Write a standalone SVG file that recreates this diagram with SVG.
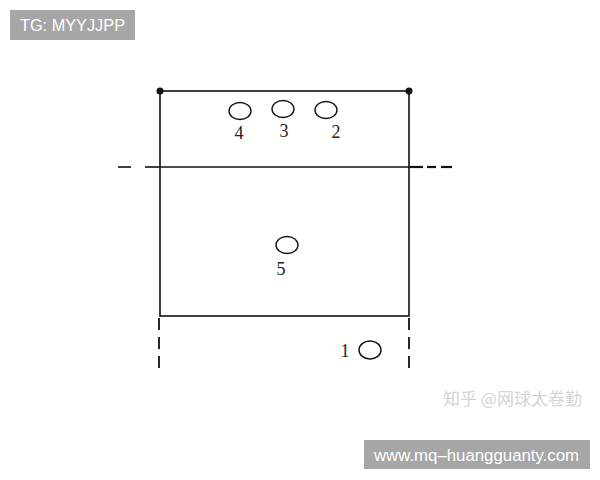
<svg xmlns="http://www.w3.org/2000/svg" width="600" height="480" viewBox="0 0 600 480">
<style>
.ln{stroke:#111;stroke-width:1.6;fill:none}
.dash{stroke:#111;stroke-width:1.8;fill:none;stroke-dasharray:12 7}
.hole{fill:none;stroke:#111;stroke-width:1.4}
.num{font-family:"Liberation Serif",serif;font-size:18px;fill:#222;text-anchor:middle}
.badge{fill:#a6a6a6}
.btxt{font-family:"Liberation Sans",Arial,sans-serif;font-size:16px;fill:#fff}
</style>
<rect width="600" height="480" fill="#fff"/>
<g id="badge-top">
<rect class="badge" x="10" y="10" width="125" height="30"/>
<text class="btxt" x="20" y="31" textLength="105" lengthAdjust="spacingAndGlyphs">TG: MYYJJPP</text>
</g>
<g id="court">
<rect class="ln" x="160" y="91" width="249" height="225"/>
<line class="ln" x1="160" y1="167" x2="409" y2="167"/>
<circle cx="160" cy="91" r="3.5" fill="#111"/>
<circle cx="409" cy="91" r="3.5" fill="#111"/>
</g>
<g id="connectors">
<line class="ln" x1="118" y1="167" x2="131" y2="167"/>
<line class="ln" x1="145" y1="167" x2="160" y2="167"/>
<line class="ln" x1="409" y1="167" x2="423" y2="167" style="stroke-width:2.2"/>
<line class="ln" x1="427" y1="167" x2="436" y2="167" style="stroke-width:2.2"/>
<line class="ln" x1="441" y1="167" x2="452" y2="167" style="stroke-width:2.2"/>
<line class="dash" x1="159" y1="318" x2="159" y2="373"/>
<line class="dash" x1="409" y1="318" x2="409" y2="373"/>
</g>
<g id="p4"><ellipse class="hole" cx="240" cy="111" rx="11" ry="8.5"/><text class="num" x="239" y="139">4</text></g>
<g id="p3"><ellipse class="hole" cx="283" cy="109" rx="11" ry="8.5"/><text class="num" x="284" y="137">3</text></g>
<g id="p2"><ellipse class="hole" cx="326" cy="110" rx="11" ry="8.5"/><text class="num" x="336" y="138">2</text></g>
<g id="p5"><ellipse class="hole" cx="287" cy="245" rx="11" ry="8.5"/><text class="num" x="281" y="275">5</text></g>
<g id="p1"><ellipse class="hole" cx="370" cy="350" rx="11" ry="9"/><text class="num" x="345" y="357">1</text></g>
<g id="watermark">
<text x="443" y="405" font-family="Noto Sans CJK SC, sans-serif" font-size="17" fill="#d4d4d4">知乎 @网球太卷勤</text>
</g>
<g id="badge-bottom">
<rect class="badge" x="364" y="440" width="226" height="29"/>
<text class="btxt" x="374" y="461" textLength="205" lengthAdjust="spacingAndGlyphs">www.mq–huangguanty.com</text>
</g>
</svg>
